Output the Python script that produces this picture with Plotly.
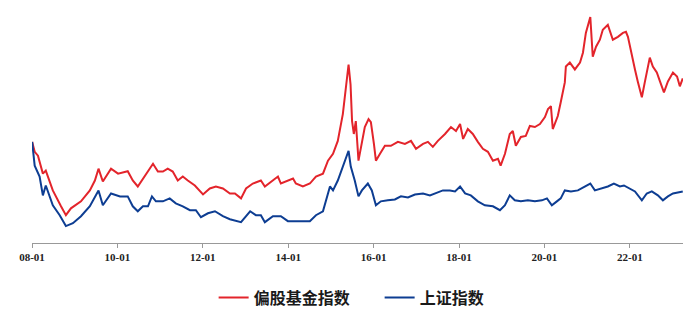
import plotly.graph_objects as go

# 偏股基金指数 (normalized, start = 1.0)
fund_dates = [
    "2008-01-02", "2008-01-24", "2008-02-21", "2008-04-03", "2008-04-28", "2008-06-27",
    "2008-09-05", "2008-10-17", "2008-11-29", "2009-02-23", "2009-05-10", "2009-06-22",
    "2009-07-23", "2009-08-29", "2009-11-07", "2010-01-06", "2010-03-30", "2010-05-12",
    "2010-06-24", "2010-08-07", "2010-09-19", "2010-11-01", "2010-12-13", "2011-01-25",
    "2011-03-07", "2011-04-19", "2011-06-01", "2011-07-14", "2011-08-26", "2011-10-25",
    "2012-01-03", "2012-03-01", "2012-04-22", "2012-06-21", "2012-08-20", "2012-10-02",
    "2012-11-23", "2013-01-05", "2013-03-04", "2013-05-12", "2013-06-15", "2013-08-06",
    "2013-10-05", "2013-10-30", "2013-12-29", "2014-02-11", "2014-03-07", "2014-05-06",
    "2014-07-05", "2014-08-26", "2014-10-25", "2014-12-07", "2015-01-19", "2015-03-01",
    "2015-04-13", "2015-05-08", "2015-06-01", "2015-06-18", "2015-07-01", "2015-07-16",
    "2015-08-02", "2015-08-25", "2015-09-14", "2015-10-18", "2015-11-19", "2015-12-09",
    "2016-01-04", "2016-01-21", "2016-02-25", "2016-04-07", "2016-05-28", "2016-07-27",
    "2016-09-25", "2016-11-16", "2016-12-29", "2017-02-27", "2017-04-10", "2017-05-22",
    "2017-07-04", "2017-09-03", "2017-10-24", "2017-12-06", "2018-01-10", "2018-02-05",
    "2018-03-17", "2018-04-29", "2018-06-11", "2018-07-24", "2018-09-05", "2018-10-18",
    "2018-11-30", "2018-12-23", "2019-01-29", "2019-03-11", "2019-04-06", "2019-05-02",
    "2019-06-14", "2019-07-26", "2019-08-30", "2019-10-12", "2019-11-24", "2020-01-06",
    "2020-02-01", "2020-02-26", "2020-03-13", "2020-04-25", "2020-05-20", "2020-06-24",
    "2020-07-03", "2020-08-06", "2020-09-18", "2020-11-01", "2020-11-26", "2020-12-21",
    "2021-01-28", "2021-02-18", "2021-03-18", "2021-04-20", "2021-05-15", "2021-06-27",
    "2021-08-09", "2021-09-21", "2021-11-03", "2021-11-29", "2021-12-16", "2022-01-19",
    "2022-02-14", "2022-03-10", "2022-04-14", "2022-05-09", "2022-06-21", "2022-07-17",
    "2022-08-20", "2022-09-16", "2022-10-20", "2022-11-23", "2023-01-05", "2023-02-09",
    "2023-03-05", "2023-03-30",
]
fund_values = [
    1.000, 0.902, 0.863, 0.686, 0.716, 0.520,
    0.363, 0.275, 0.343, 0.412, 0.520, 0.618,
    0.735, 0.608, 0.735, 0.686, 0.710, 0.618,
    0.559, 0.637, 0.706, 0.784, 0.706, 0.706,
    0.735, 0.706, 0.618, 0.657, 0.618, 0.569,
    0.480, 0.539, 0.559, 0.539, 0.490, 0.490,
    0.441, 0.539, 0.588, 0.618, 0.559, 0.608,
    0.657, 0.588, 0.618, 0.637, 0.588, 0.559,
    0.588, 0.657, 0.686, 0.814, 0.882, 1.010,
    1.275, 1.539, 1.765, 1.569, 1.206, 1.078,
    1.206, 0.814, 0.951, 1.147, 1.225, 1.196,
    0.980, 0.814, 0.882, 0.961, 0.961, 1.000,
    0.980, 1.010, 0.931, 0.980, 1.000, 0.951,
    1.010, 1.078, 1.147, 1.108, 1.176, 1.029,
    1.127, 1.078, 1.000, 0.931, 0.902, 0.814,
    0.833, 0.765, 0.882, 1.078, 1.108, 0.961,
    1.049, 1.059, 1.157, 1.147, 1.176, 1.245,
    1.324, 1.353, 1.127, 1.255, 1.392, 1.588,
    1.745, 1.784, 1.716, 1.784, 1.882, 2.078,
    2.235, 1.843, 1.941, 2.010, 2.108, 2.157,
    2.010, 2.039, 2.078, 2.088, 2.039, 1.843,
    1.716, 1.598, 1.441, 1.588, 1.833, 1.745,
    1.686, 1.598, 1.490, 1.598, 1.686, 1.647,
    1.549, 1.627,
]

# 上证指数 (normalized on the same scale)
sh_dates = [
    "2008-01-02", "2008-01-24", "2008-03-06", "2008-04-03", "2008-04-28", "2008-06-27",
    "2008-08-25", "2008-10-17", "2008-12-16", "2009-02-23", "2009-05-10", "2009-07-23",
    "2009-08-29", "2009-11-07", "2010-01-23", "2010-03-30", "2010-05-12", "2010-06-24",
    "2010-08-07", "2010-09-19", "2010-10-23", "2010-11-26", "2011-01-25", "2011-03-24",
    "2011-05-15", "2011-07-14", "2011-09-13", "2011-11-03", "2011-12-16", "2012-02-14",
    "2012-04-14", "2012-06-21", "2012-08-20", "2012-10-02", "2012-11-23", "2013-02-09",
    "2013-03-30", "2013-05-12", "2013-06-15", "2013-08-23", "2013-10-30", "2013-12-29",
    "2014-02-28", "2014-04-19", "2014-07-05", "2014-08-26", "2014-10-25", "2014-12-24",
    "2015-01-19", "2015-03-01", "2015-04-13", "2015-05-08", "2015-06-01", "2015-06-20",
    "2015-07-24", "2015-08-25", "2015-09-23", "2015-11-13", "2015-12-17", "2016-01-21",
    "2016-03-03", "2016-05-02", "2016-07-01", "2016-08-22", "2016-10-21", "2016-12-20",
    "2017-02-27", "2017-04-27", "2017-06-09", "2017-08-16", "2017-10-15", "2017-11-28",
    "2018-01-10", "2018-02-22", "2018-04-12", "2018-06-11", "2018-08-10", "2018-10-18",
    "2018-12-17", "2019-01-29", "2019-03-11", "2019-04-23", "2019-06-14", "2019-08-13",
    "2019-10-12", "2019-12-11", "2020-01-23", "2020-03-05", "2020-04-17", "2020-05-20",
    "2020-06-24", "2020-08-15", "2020-10-14", "2020-12-13", "2021-01-28", "2021-03-08",
    "2021-04-28", "2021-06-27", "2021-08-18", "2021-10-08", "2021-11-12", "2021-12-24",
    "2022-02-14", "2022-04-14", "2022-05-26", "2022-07-08", "2022-08-29", "2022-10-11",
    "2022-11-23", "2023-01-05", "2023-02-17", "2023-03-30",
]
sh_values = [
    1.000, 0.765, 0.657, 0.471, 0.569, 0.373,
    0.275, 0.167, 0.196, 0.265, 0.363, 0.520,
    0.373, 0.490, 0.461, 0.461, 0.363, 0.314,
    0.363, 0.363, 0.461, 0.412, 0.412, 0.441,
    0.392, 0.363, 0.324, 0.324, 0.255, 0.294,
    0.314, 0.265, 0.235, 0.225, 0.206, 0.314,
    0.275, 0.275, 0.206, 0.265, 0.265, 0.216,
    0.216, 0.216, 0.216, 0.275, 0.314, 0.559,
    0.520, 0.618, 0.755, 0.853, 0.912, 0.755,
    0.618, 0.461, 0.520, 0.588, 0.520, 0.373,
    0.412, 0.422, 0.431, 0.461, 0.451, 0.480,
    0.490, 0.471, 0.490, 0.520, 0.520, 0.510,
    0.559, 0.490, 0.471, 0.412, 0.373, 0.363,
    0.324, 0.373, 0.471, 0.422, 0.412, 0.422,
    0.412, 0.422, 0.441, 0.373, 0.412, 0.441,
    0.520, 0.510, 0.520, 0.559, 0.588, 0.520,
    0.539, 0.559, 0.588, 0.559, 0.569, 0.539,
    0.510, 0.422, 0.490, 0.510, 0.471, 0.422,
    0.461, 0.490, 0.500, 0.510,
]

tick_dates = ["2008-01-01", "2010-01-01", "2012-01-01", "2014-01-01",
              "2016-01-01", "2018-01-01", "2020-01-01", "2022-01-01"]
tick_labels = ["08-01", "10-01", "12-01", "14-01", "16-01", "18-01", "20-01", "22-01"]

RED = "#e3242b"
BLUE = "#0d3d92"

fig = go.Figure()
fig.add_trace(go.Scatter(x=fund_dates, y=fund_values, mode="lines", name="偏股基金指数",
                         line=dict(color=RED, width=2)))
fig.add_trace(go.Scatter(x=sh_dates, y=sh_values, mode="lines", name="上证指数",
                         line=dict(color=BLUE, width=2)))

fig.update_layout(
    width=699, height=325,
    margin=dict(l=32, r=16, t=10, b=80),
    paper_bgcolor="white", plot_bgcolor="white",
    showlegend=True,
    legend=dict(orientation="h", x=0.534, xanchor="center", y=-0.234, yanchor="middle",
                font=dict(family="Noto Sans CJK SC", size=16, color="#1a1a1a", weight="bold"),
                itemwidth=30, entrywidth=121, traceorder="normal"),
    xaxis=dict(
        type="date", range=["2008-01-01", "2023-04-01"],
        tickmode="array", tickvals=tick_dates, ticktext=tick_labels,
        showgrid=False, zeroline=False,
        showline=True, linecolor="#999", linewidth=1,
        ticks="outside", ticklen=4, tickcolor="#999",
        tickfont=dict(family="Liberation Serif", size=11, color="#222", weight="bold"),
    ),
    yaxis=dict(visible=False, range=[0, 2.304]),
)

fig.write_html("out.html")
